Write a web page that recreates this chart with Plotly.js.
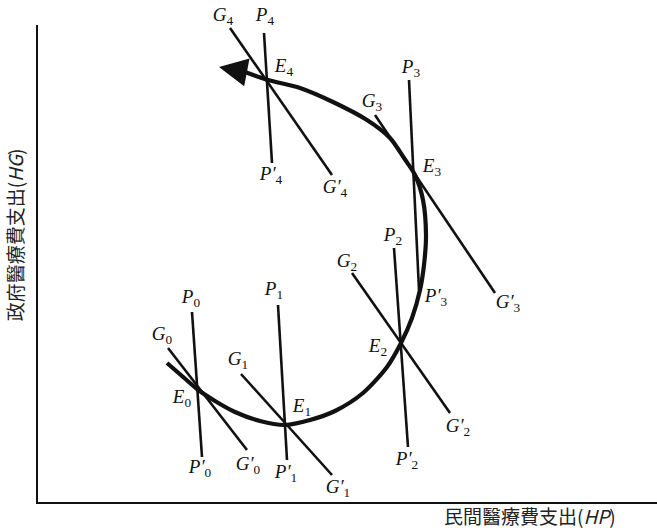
<!DOCTYPE html>
<html>
<head>
<meta charset="utf-8">
<script src="https://cdn.plot.ly/plotly-3.0.1.min.js"></script>
<style>
  html, body { margin: 0; padding: 0; background: #fff; }
  #chart { width: 657px; height: 532px; }
</style>
</head>
<body>
<div id="chart"></div>
<script>
// path of equilibria E0 -> E4 (arbitrary units, origin at the axes corner)
const pathX = [129, 144, 159, 177, 197, 222, 247, 272, 297, 325, 349, 363, 374, 382, 386, 388, 385, 377, 366, 352, 329, 295, 262, 230, 207];
const pathY = [139, 126, 113, 101, 90, 81, 77, 82, 91, 109, 135, 159, 184, 212, 237, 267, 302, 327, 344, 364, 382, 400, 414, 422, 430];
const arrowTip = [181, 435];

// G lines (G_i -> G'_i), top end and bottom end
const gTopX = [130, 203, 314, 337, 192];
const gTopY = [154, 128, 229, 387, 474];
const gEndX = [209, 294, 412, 457, 294];
const gEndY = [52, 27, 89, 209, 327];

// P lines (P_i -> P'_i)
const pTopX = [154, 240, 356, 371, 226];
const pTopY = [190, 197, 254, 422, 469];
const pEndX = [164, 249, 370, 381, 234];
const pEndY = [45, 42, 55, 212, 339];

// point labels
const labelText = [
  "<i>G</i><sub>4</sub>", "<i>P</i><sub>4</sub>", "<i>E</i><sub>4</sub>",
  "<i>P</i><sub>3</sub>", "<i>G</i><sub>3</sub>", "<i>E</i><sub>3</sub>",
  "<i>P′</i><sub>4</sub>", "<i>G′</i><sub>4</sub>",
  "<i>P</i><sub>2</sub>", "<i>G</i><sub>2</sub>", "<i>P′</i><sub>3</sub>", "<i>G′</i><sub>3</sub>", "<i>E</i><sub>2</sub>",
  "<i>P</i><sub>0</sub>", "<i>P</i><sub>1</sub>", "<i>G</i><sub>0</sub>", "<i>G</i><sub>1</sub>",
  "<i>E</i><sub>0</sub>", "<i>E</i><sub>1</sub>",
  "<i>P′</i><sub>0</sub>", "<i>G′</i><sub>0</sub>", "<i>P′</i><sub>1</sub>", "<i>G′</i><sub>1</sub>",
  "<i>P′</i><sub>2</sub>", "<i>G′</i><sub>2</sub>"
];
const labelX = [185, 227, 246, 373, 334, 394, 233, 297, 355, 309, 398, 470, 340, 153, 236, 124, 200, 144, 264, 162, 210, 248, 300, 369, 420];
const labelY = [476, 476, 435, 434, 400, 335, 327, 314, 266, 240, 205, 199, 155, 204, 212, 167, 142, 104, 95, 34, 37, 29, 14, 42, 75];
const labelPos = labelText.map((_, i) => (i < 2 ? "top center" : "middle center"));

const xTitle = "民間醫療費支出(<i>HP</i>)";
const yTitle = "政府醫療費支出(<i>HG</i>)";

function segments(x0, y0, x1, y1) {
  const xs = [];
  const ys = [];
  x0.forEach((_, i) => {
    xs.push(x0[i], x1[i], null);
    ys.push(y0[i], y1[i], null);
  });
  return { x: xs, y: ys };
}

const ink = "#111111";
const gSeg = segments(gTopX, gTopY, gEndX, gEndY);
const pSeg = segments(pTopX, pTopY, pEndX, pEndY);

const traces = [
  { x: gSeg.x, y: gSeg.y, type: "scatter", mode: "lines", line: { color: ink, width: 2.6 }, hoverinfo: "skip" },
  { x: pSeg.x, y: pSeg.y, type: "scatter", mode: "lines", line: { color: ink, width: 2.6 }, hoverinfo: "skip" },
  {
    x: pathX, y: pathY, type: "scatter", mode: "lines",
    line: { color: ink, width: 4.2, shape: "spline", smoothing: 0.8 }, hoverinfo: "skip",
  },
  {
    x: labelX, y: labelY, type: "scatter", mode: "text", text: labelText,
    textposition: labelPos, cliponaxis: false,
    textfont: { family: "Liberation Serif, DejaVu Serif, serif", size: 19, color: ink },
    hoverinfo: "skip",
  },
];

const axis = {
  showline: true, linecolor: ink, linewidth: 2, showgrid: false, zeroline: false,
  showticklabels: false, ticks: "", fixedrange: true,
};

const titleFont = { family: "Noto Sans CJK JP, sans-serif", size: 19, color: "#222" };

const layout = {
  width: 657,
  height: 532,
  margin: { l: 38, r: 0, t: 25, b: 30 },
  paper_bgcolor: "#ffffff",
  plot_bgcolor: "#ffffff",
  showlegend: false,
  hovermode: false,
  xaxis: { ...axis, range: [0, 619] },
  yaxis: { ...axis, range: [0, 477] },
  annotations: [
    {
      x: arrowTip[0], y: arrowTip[1], ax: pathX[pathX.length - 1], ay: pathY[pathY.length - 1],
      xref: "x", yref: "y", axref: "x", ayref: "y", text: "",
      showarrow: true, arrowhead: 2, arrowsize: 1.35, arrowwidth: 4.2, arrowcolor: ink,
    },
    {
      x: 0.795, y: -0.028, xref: "paper", yref: "paper", xanchor: "center", yanchor: "middle",
      text: xTitle, showarrow: false, font: titleFont,
    },
    {
      x: -0.038, y: 0.56, xref: "paper", yref: "paper", xanchor: "center", yanchor: "middle",
      text: yTitle, showarrow: false, textangle: -90, font: titleFont,
    },
  ],
};

Plotly.newPlot("chart", traces, layout, { displayModeBar: false, staticPlot: true });
</script>
</body>
</html>
